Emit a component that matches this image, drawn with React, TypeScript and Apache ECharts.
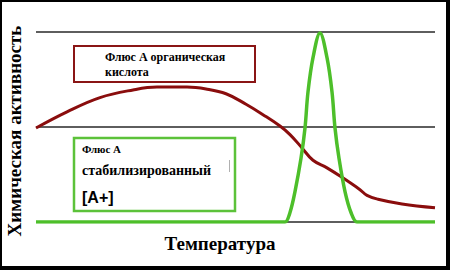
import React, { useEffect, useRef } from "react";
import * as echarts from "echarts";

// Temperature axis runs 0..399, activity axis 0..2
const acidX = [0, 31, 64, 97, 121, 151, 170, 190, 210, 227, 244, 254, 266, 277, 291, 306, 324, 331, 342, 366, 399];
const acidY = [0.99, 1.16, 1.31, 1.39, 1.42, 1.42, 1.40, 1.35, 1.24, 1.13, 1.01, 0.92, 0.78, 0.65, 0.57, 0.47, 0.34, 0.28, 0.24, 0.19, 0.15];

const stabX = [0, 244, 249, 254, 259, 265, 269, 272, 277, 284, 291, 296, 299, 303, 309, 315, 321, 326, 399];
const stabY = [0, 0, 0, 0.1, 0.32, 0.67, 0.99, 1.37, 1.73, 1.99, 1.73, 1.37, 0.99, 0.67, 0.32, 0.1, 0, 0, 0];

const yTicks = [0, 1, 2];

const yTitle = "Химическая активность";
const xTitle = "Температура";
const acidLabel = ["Флюс А органическая", "кислота"];
const stabLabel = ["Флюс А", "стабилизированный", "[A+]"];

const zip = (xs: number[], ys: number[]) => xs.map((x, i) => [x, ys[i]]);

const SERIF = "'Liberation Serif', 'DejaVu Serif Condensed', 'DejaVu Serif', serif";
const SANS = "'Liberation Sans', Arial, sans-serif";

const label = (text: string, x: number, y: number, size: number, family = SERIF) => ({
  type: "text",
  x,
  y,
  style: {
    text,
    fontFamily: family,
    fontWeight: "bold",
    fontSize: size,
    fill: "#000",
    verticalAlign: "middle",
  },
  z: 11,
});

export default function App() {
  const ref = useRef<HTMLDivElement>(null);

  useEffect(() => {
    if (!ref.current) return;
    const chart = echarts.init(ref.current, null, { renderer: "svg" });
    chart.setOption({
      animation: false,
      backgroundColor: "#ffffff",
      grid: { left: 36, right: 15, top: 32, bottom: 48 },
      xAxis: {
        type: "value",
        min: 0,
        max: 399,
        axisLine: { show: false },
        axisTick: { show: false },
        axisLabel: { show: false },
        splitLine: { show: false },
      },
      yAxis: {
        type: "value",
        min: yTicks[0],
        max: yTicks[yTicks.length - 1],
        interval: 1,
        axisLine: { show: false },
        axisTick: { show: false },
        axisLabel: { show: false },
        splitLine: { show: true, lineStyle: { color: "#5e5e5e", width: 2 } },
      },
      series: [
        {
          name: acidLabel.join(" "),
          type: "line",
          data: zip(acidX, acidY),
          smooth: 0.4,
          symbol: "none",
          lineStyle: { color: "#8a0d0d", width: 3 },
          z: 2,
        },
        {
          name: stabLabel.join(" "),
          type: "line",
          data: zip(stabX, stabY),
          smooth: 0.35,
          symbol: "none",
          lineStyle: { color: "#4dbf2a", width: 3.5 },
          z: 3,
        },
      ],
      graphic: [
        // outer frame
        { type: "rect", shape: { x: 0, y: 0, width: 450, height: 2 }, style: { fill: "#000" }, z: 100 },
        { type: "rect", shape: { x: 0, y: 0, width: 2, height: 270 }, style: { fill: "#000" }, z: 100 },
        { type: "rect", shape: { x: 446, y: 0, width: 4, height: 270 }, style: { fill: "#000" }, z: 100 },
        { type: "rect", shape: { x: 0, y: 266, width: 450, height: 4 }, style: { fill: "#000" }, z: 100 },
        // axis titles
        {
          type: "text",
          x: 14,
          y: 131,
          rotation: Math.PI / 2,
          style: {
            text: yTitle,
            fontFamily: SERIF,
            fontWeight: "bold",
            fontSize: 19,
            fill: "#000",
            align: "center",
            verticalAlign: "middle",
          },
        },
        {
          type: "text",
          x: 220,
          y: 243,
          style: {
            text: xTitle,
            fontFamily: SERIF,
            fontWeight: "bold",
            fontSize: 19,
            fill: "#000",
            align: "center",
            verticalAlign: "middle",
          },
        },
        // organic acid label box
        {
          type: "rect",
          shape: { x: 74, y: 46, width: 181, height: 36 },
          style: { fill: "#fff", stroke: "#8a1515", lineWidth: 2 },
          z: 10,
        },
        label(acidLabel[0], 105, 57, 12),
        label(acidLabel[1], 105, 72, 12),
        // stabilized flux label box
        {
          type: "rect",
          shape: { x: 74, y: 138, width: 161, height: 73 },
          style: { fill: "#fff", stroke: "#5cc23a", lineWidth: 2.5 },
          z: 10,
        },
        label(stabLabel[0], 82, 149, 11),
        label(stabLabel[1], 82, 170, 14),
        label(stabLabel[2], 82, 197, 16, SANS),
        {
          type: "line",
          shape: { x1: 229.5, y1: 160, x2: 229.5, y2: 172 },
          style: { stroke: "#b0b0b0", lineWidth: 1 },
          z: 11,
        },
      ],
    });
    return () => chart.dispose();
  }, []);

  return (
    <div
      ref={ref}
      style={{ position: "absolute", left: 0, top: 0, width: 450, height: 270, background: "#fff" }}
    />
  );
}
